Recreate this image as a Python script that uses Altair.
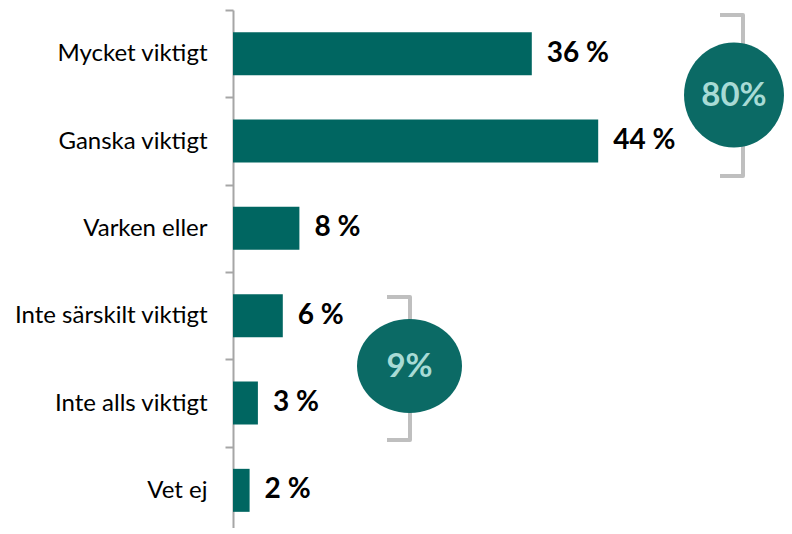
import altair as alt
import pandas as pd

# ---- data ----
categories = ["Mycket viktigt", "Ganska viktigt", "Varken eller",
              "Inte särskilt viktigt", "Inte alls viktigt", "Vet ej"]
values = [36, 44, 8, 6, 3, 2]
group_totals = ["80%", "9%"]

# ---- style / layout constants ----
W, H = 551, 518
PAD = {"left": 225, "top": 2, "right": 0, "bottom": 0}
PX_PER_PCT = 8.3
BAR_COLOR = "#006661"
CIRCLE_COLOR = "#0b6a65"
CIRCLE_TEXT = "#a8dbd5"
BRACKET_COLOR = "#bfbfbf"
AXIS_COLOR = "#a6a6a6"
FONT = "Lato"

# annotation geometry (pixels inside plot area)
circle_cx = [501, 176.5]
circle_cy = [85, 356]
circle_shape = [
    "M-0.952,0A0.952,1,0,1,1,0.952,0A0.952,1,0,1,1,-0.952,0Z",
    "M-1,0A1,0.895,0,1,1,1,0A1,0.895,0,1,1,-1,0Z",
]
bracket_x = [510, 177]
bracket_stub = [487, 154]
bracket_top = [5, 287]
bracket_bot = [166, 430]

bars_df = pd.DataFrame({
    "cat": categories,
    "val": values,
    "label": [f"{v} %" for v in values],
})

circ_df = pd.DataFrame({
    "label": group_totals,
    "cx": circle_cx,
    "cy": circle_cy,
    "shape": circle_shape,
})

rows = []
for g in range(len(group_totals)):
    pts = [(bracket_stub[g], bracket_top[g]), (bracket_x[g], bracket_top[g]),
           (bracket_x[g], bracket_bot[g]), (bracket_stub[g], bracket_bot[g])]
    for i, (px, py) in enumerate(pts):
        rows.append({"g": group_totals[g], "i": i, "px": px, "py": py})
br_df = pd.DataFrame(rows)

x_scale = alt.Scale(domain=[0, W / PX_PER_PCT], nice=False, zero=True)
y_scale = alt.Scale(domain=categories, paddingInner=0, paddingOuter=0, range=[0, 524])

bars = alt.Chart(bars_df).mark_bar(color=BAR_COLOR, size=43).encode(
    x=alt.X("val:Q", scale=x_scale, axis=None),
    y=alt.Y("cat:N", sort=categories, scale=y_scale, title=None,
            axis=alt.Axis(tickBand="extent", domainColor=AXIS_COLOR, domainWidth=2,
                          tickColor=AXIS_COLOR, tickWidth=2, tickSize=8,
                          labelPadding=18, labelFont=FONT, labelFontSize=24,
                          labelColor="#000000", labelLimit=0, grid=False)),
)

texts = alt.Chart(bars_df).mark_text(
    align="left", baseline="middle", dx=15, font=FONT, fontSize=28,
    fontWeight="bold", color="#000000"
).encode(
    x=alt.X("val:Q", scale=x_scale, axis=None),
    y=alt.Y("cat:N", sort=categories, scale=y_scale, axis=None),
    text="label:N",
)

brackets = alt.Chart(br_df).mark_line(
    color=BRACKET_COLOR, strokeWidth=4, strokeJoin="round", strokeCap="butt"
).encode(
    x=alt.X("px:Q", scale=None, axis=None),
    y=alt.Y("py:Q", scale=None, axis=None),
    detail="g:N",
    order="i:Q",
)

circles = alt.Chart(circ_df).mark_point(
    filled=True, opacity=1, color=CIRCLE_COLOR, size=11025, strokeWidth=0
).encode(
    x=alt.X("cx:Q", scale=None, axis=None),
    y=alt.Y("cy:Q", scale=None, axis=None),
    shape=alt.Shape("shape:N", scale=None, legend=None),
)

circle_text = alt.Chart(circ_df).mark_text(
    align="center", baseline="middle", font=FONT, fontSize=33,
    fontWeight="bold", color=CIRCLE_TEXT, dy=1
).encode(
    x=alt.X("cx:Q", scale=None, axis=None),
    y=alt.Y("cy:Q", scale=None, axis=None),
    text="label:N",
)

chart = alt.layer(bars, texts, brackets, circles, circle_text).resolve_scale(
    x="independent", y="independent"
).properties(
    width=W, height=H, autosize="none", padding=PAD, background="#ffffff"
).configure_view(stroke=None)

chart.save("out.html", embed_options={"renderer": "svg", "actions": False})
